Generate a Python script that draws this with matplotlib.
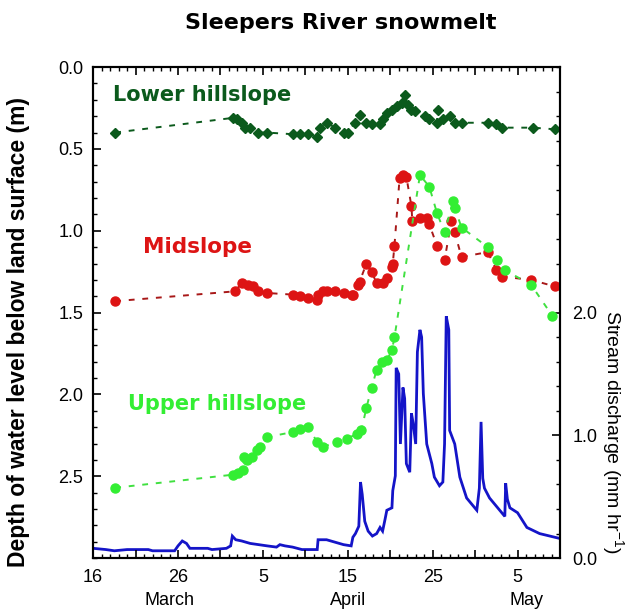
import matplotlib
matplotlib.use("Agg")
import matplotlib.pyplot as plt
from matplotlib.ticker import MultipleLocator, FixedLocator

plt.rcParams['font.family'] = ['Liberation Sans', 'DejaVu Sans']
plt.rcParams['mathtext.fontset'] = 'custom'
plt.rcParams['mathtext.rm'] = 'Liberation Sans'

# x values are days counted from 1 March (16 = March 16, 36 = April 5 ...)
lower_day = [18.6, 32.5, 32.9, 33.5, 33.9, 34.5, 35.4, 36.5, 39.5, 40.4,
             41.3, 42.4, 42.7, 43.5, 44.5, 45.6, 46.0, 46.8, 47.4, 48.2,
             48.9, 49.8, 50.1, 50.6, 51.2, 51.8, 52.4, 52.7, 53.1, 53.5,
             53.9, 55.1, 55.6, 56.5, 56.6, 57.2, 58.0, 58.6, 59.4, 62.5,
             63.5, 64.2, 67.8, 70.4]
lower_depth = [0.40, 0.31, 0.32, 0.34, 0.37, 0.37, 0.40, 0.40, 0.41, 0.41,
               0.41, 0.43, 0.37, 0.34, 0.37, 0.40, 0.40, 0.34, 0.29, 0.34,
               0.35, 0.35, 0.32, 0.28, 0.26, 0.24, 0.22, 0.17, 0.23, 0.26,
               0.27, 0.30, 0.32, 0.34, 0.26, 0.32, 0.30, 0.34, 0.34, 0.34,
               0.35, 0.37, 0.37, 0.38]

mid_day = [18.6, 32.7, 33.5, 34.2, 34.8, 35.4, 36.5, 39.5, 40.4, 41.3,
           42.4, 42.5, 43.1, 43.6, 44.5, 45.6, 46.5, 46.6, 47.2, 47.4,
           48.2, 48.8, 49.4, 50.1, 50.6, 51.2, 51.3, 51.5, 52.1, 52.5,
           52.9, 53.5, 53.6, 54.5, 55.3, 55.6, 56.5, 57.4, 58.2, 58.6,
           59.4, 62.5, 63.5, 64.2, 67.6, 70.4]
mid_depth = [1.43, 1.37, 1.32, 1.33, 1.34, 1.37, 1.38, 1.39, 1.40, 1.41,
             1.42, 1.39, 1.37, 1.37, 1.37, 1.38, 1.39, 1.39, 1.33, 1.31,
             1.20, 1.25, 1.32, 1.32, 1.29, 1.22, 1.20, 1.09, 0.68, 0.66,
             0.67, 0.85, 0.94, 0.92, 0.92, 0.96, 1.09, 1.18, 0.94, 1.01,
             1.16, 1.13, 1.24, 1.28, 1.30, 1.34]

upper_day = [18.6, 32.5, 33.1, 33.6, 33.8, 34.1, 34.7, 35.3, 35.6, 36.5,
             39.5, 40.4, 41.3, 42.4, 43.1, 44.7, 45.9, 47.1, 47.6, 48.2,
             48.8, 49.4, 50.0, 50.6, 51.2, 51.5, 54.5, 55.6, 56.5, 57.4,
             58.4, 58.6, 59.4, 62.5, 63.6, 64.5, 67.6, 70.1]
upper_depth = [2.57, 2.49, 2.48, 2.46, 2.38, 2.40, 2.38, 2.34, 2.32, 2.26,
               2.23, 2.21, 2.20, 2.29, 2.32, 2.29, 2.27, 2.24, 2.22, 2.08,
               1.96, 1.85, 1.80, 1.79, 1.73, 1.65, 0.66, 0.73, 0.89, 1.01,
               0.82, 0.86, 0.98, 1.10, 1.18, 1.24, 1.33, 1.52]

q_day = [16.0, 17.5, 18.5, 20.0, 22.5, 23.0, 25.6, 26.0, 26.5, 27.0,
         27.4, 29.5, 30.0, 31.7, 32.2, 32.4, 32.8, 33.5, 34.5, 35.5,
         36.5, 37.6, 38.0, 38.6, 39.5, 40.6, 42.4, 42.5, 43.5, 44.5,
         45.5, 46.4, 46.6, 46.9, 47.3, 47.5, 47.7, 48.0, 48.4, 48.9,
         49.4, 49.8, 50.1, 50.4, 50.6, 51.2, 51.3, 51.6, 51.7, 52.0,
         52.2, 52.5, 52.7, 52.9, 53.3, 53.5, 53.7, 54.0, 54.2, 54.5,
         54.7, 54.9, 55.3, 55.9, 56.2, 56.8, 57.2, 57.4, 57.6, 57.9,
         58.0, 58.6, 59.2, 60.0, 61.2, 61.5, 61.7, 61.9, 62.1, 62.7,
         63.9, 64.5, 64.6, 64.8, 65.1, 66.0, 67.1, 68.6, 69.8, 71.0]
q_val = [0.08, 0.07, 0.06, 0.07, 0.07, 0.06, 0.06, 0.10, 0.14, 0.12,
         0.08, 0.08, 0.07, 0.08, 0.10, 0.18, 0.15, 0.14, 0.12, 0.11,
         0.10, 0.09, 0.11, 0.10, 0.09, 0.07, 0.07, 0.15, 0.15, 0.13,
         0.11, 0.10, 0.17, 0.20, 0.26, 0.62, 0.52, 0.30, 0.22, 0.18,
         0.20, 0.25, 0.22, 0.32, 0.39, 0.41, 0.55, 0.67, 1.55, 1.50,
         0.93, 1.39, 1.30, 0.77, 0.70, 1.18, 1.10, 0.93, 1.68, 1.86,
         1.80, 1.34, 0.93, 0.77, 0.66, 0.59, 0.62, 0.93, 1.97, 1.86,
         1.04, 0.93, 0.66, 0.49, 0.39, 0.57, 1.11, 0.65, 0.57, 0.49,
         0.39, 0.34, 0.61, 0.48, 0.41, 0.37, 0.25, 0.20, 0.18, 0.16]

tick_days = [16, 26, 36, 46, 56, 66]
tick_labels = ['16', '26', '5', '15', '25', '5']
months = ['March', 'April', 'May']
month_pos = [25, 46, 67]

fig = plt.figure(figsize=(6.25, 6.1), dpi=100)
ax = fig.add_axes([0.149, 0.085, 0.747, 0.805])
ax2 = ax.twinx()
ax.set_zorder(ax2.get_zorder() + 1)
ax.patch.set_visible(False)

# discharge (right axis)
ax2.plot(q_day, q_val, color='#1414c8', lw=2.0, solid_joinstyle='miter')
ax2.set_ylim(0, 4.0)
ax2.yaxis.set_major_locator(FixedLocator([0, 1, 2]))
ax2.yaxis.set_minor_locator(MultipleLocator(0.2))
ax2.set_yticklabels(['0.0', '1.0', '2.0'])

dash = (0, (3, 4))
ax.plot(lower_day, lower_depth, ls=dash, color='#0b5a1c', lw=1.4,
        marker='D', ms=5.5, mec='#0b5a1c', mfc='#0b5a1c')
ax.plot(mid_day, mid_depth, ls=dash, color='#a81818', lw=1.4,
        marker='o', ms=6.5, mec='#dd1414', mfc='#dd1414')
ax.plot(upper_day, upper_depth, ls=dash, color='#40e040', lw=1.4,
        marker='o', ms=6.5, mec='#33ee33', mfc='#33ee33')

ax.set_xlim(16, 71)
ax.set_ylim(3.0, 0.0)
ax.yaxis.set_major_locator(FixedLocator([0.0, 0.5, 1.0, 1.5, 2.0, 2.5]))
ax.yaxis.set_minor_locator(MultipleLocator(0.1))
ax.yaxis.set_major_formatter(plt.FormatStrFormatter('%.1f'))

maj = list(range(16, 72, 5))
ax.set_xticks(maj)
ax.set_xticklabels([tick_labels[tick_days.index(d)] if d in tick_days else ''
                    for d in maj])
ax.xaxis.set_minor_locator(MultipleLocator(1))

for a in (ax, ax2):
    for s in a.spines.values():
        s.set_linewidth(1.5)
ax.tick_params(axis='both', which='major', direction='in', length=6,
               width=1.2, labelsize=13, pad=7, top=True)
ax.tick_params(axis='both', which='minor', direction='in', length=3,
               width=1.0, top=True)
ax.tick_params(axis='x', which='major', pad=8)
ax2.tick_params(axis='y', which='major', direction='in', length=6,
                width=1.2, labelsize=13, pad=9)
ax2.tick_params(axis='y', which='minor', direction='in', length=3, width=1.0)

for m, p in zip(months, month_pos):
    ax.text(p, -0.087, m, transform=ax.get_xaxis_transform(),
            ha='center', va='center', fontsize=13)

ax.text(18.35, 0.17, 'Lower hillslope', color='#0b5a1c', fontsize=15,
        fontweight='bold', family='DejaVu Sans', va='center')
ax.text(21.9, 1.10, 'Midslope', color='#dd1414', fontsize=15.5,
        fontweight='bold', family='DejaVu Sans', va='center')
ax.text(20.1, 2.06, 'Upper hillslope', color='#33ee33', fontsize=15,
        fontweight='bold', family='DejaVu Sans', va='center')

fig.text(0.545, 0.963, 'Sleepers River snowmelt', ha='center', va='center',
         fontsize=16, fontweight='bold', family='DejaVu Sans')
fig.text(0.03, 0.455, 'Depth of water level below land surface (m)',
         rotation=90, ha='center', va='center', fontsize=16.5,
         fontweight='bold')
fig.text(0.979, 0.292, r'Stream discharge (mm hr$^{-1}$)', rotation=270,
         ha='center', va='center', fontsize=14)

fig.savefig('out.png', dpi=100)
